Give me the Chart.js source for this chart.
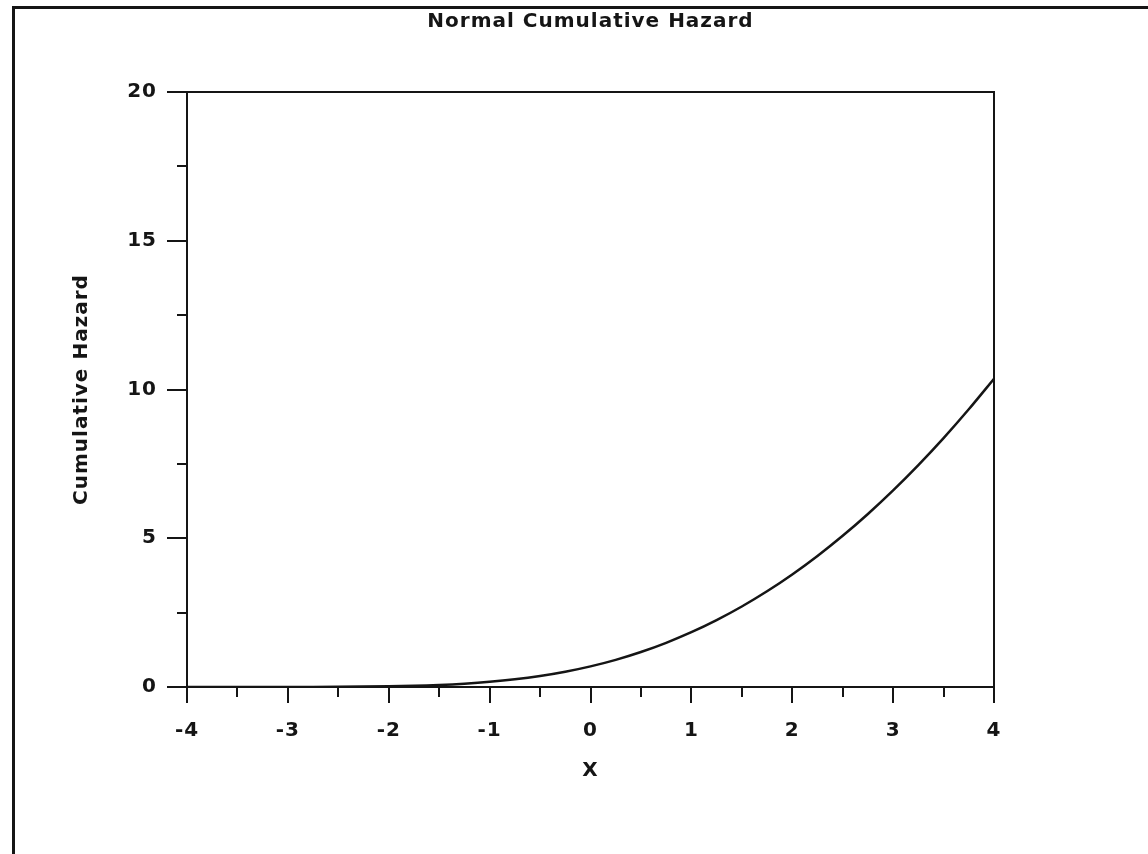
<!DOCTYPE html>
<html>
<head>
<meta charset="utf-8">
<script src="https://cdn.jsdelivr.net/npm/chart.js@4/dist/chart.umd.min.js"></script>
<style>
  body { margin: 0; background: #fff; }
  canvas { display: block; }
</style>
</head>
<body>
<canvas id="hazardChart" width="1148" height="854"></canvas>
<script>
// x values and the cumulative hazard
const xValues = [-4, -3.5, -3, -2.5, -2, -1.75, -1.5, -1.25, -1, -0.75, -0.5, -0.25, 0,
                 0.25, 0.5, 0.75, 1, 1.25, 1.5, 1.75, 2, 2.25, 2.5, 2.75, 3, 3.25, 3.5, 3.75, 4];
const hazardValues = [0.00003, 0.0002, 0.0013, 0.006, 0.023, 0.041, 0.069, 0.112, 0.173, 0.257, 0.369, 0.513, 0.693,
                      0.913, 1.176, 1.485, 1.841, 2.248, 2.706, 3.217, 3.783, 4.405, 5.082, 5.816, 6.608, 7.458, 8.365, 9.334, 10.36];

const ink = '#151515';
const font = 'DejaVu Sans';
const textFont = { family: font, size: 20, weight: 'bold' };

let canvas = document.getElementById('hazardChart');
let ctx = canvas.getContext('2d');
// the old bitmap font is spread out, so widen the text a little
ctx.letterSpacing = '1px';

// outer frame line along the left and top of the page
const pageFrame = {
    id: 'pageFrame',
    beforeDraw(chart) {
        let c = chart.ctx;
        c.letterSpacing = '1px';
        c.save();
        c.strokeStyle = ink;
        c.lineWidth = 3;
        c.beginPath();
        c.moveTo(13.5, chart.height);
        c.lineTo(13.5, 7.5);
        c.lineTo(chart.width, 7.5);
        c.stroke();
        c.restore();
    }
};

let hazardChart = new Chart(ctx, {
    type: 'line',
    data: {
        datasets: [{
            label: 'Cumulative Hazard',
            data: xValues.map((x, i) => ({ x: x, y: hazardValues[i] })),
            borderColor: ink,
            borderWidth: 2.5,
            pointRadius: 0,
            tension: 0.3,
            fill: false
        }]
    },
    options: {
        responsive: false,
        animation: false,
        layout: { padding: { left: 0, top: 0, right: 154, bottom: 0 } },
        plugins: {
            legend: { display: false },
            tooltip: { enabled: false },
            title: {
                display: true,
                text: 'Normal Cumulative Hazard',
                fullSize: false,
                color: ink,
                font: textFont,
                padding: { top: 10, bottom: 0 }
            }
        },
        scales: {
            x: {
                type: 'linear', position: 'bottom', weight: 1,
                min: -4, max: 4,
                afterFit: s => { s.height = 167; },
                ticks: { stepSize: 1, color: ink, padding: 16, font: textFont },
                grid: { drawOnChartArea: false, tickLength: 16, color: ink, lineWidth: 2 },
                border: { color: ink, width: 2 },
                title: { display: true, text: 'X', color: ink, padding: { bottom: 71 }, font: textFont }
            },
            xMinor: {
                type: 'linear', position: 'bottom', weight: 0,
                min: -4, max: 4,
                afterFit: s => { s.height = 0; },
                ticks: { stepSize: 0.5, display: false },
                grid: { drawOnChartArea: false, tickLength: 10, color: ink, lineWidth: 2 },
                border: { display: false }
            },
            xTop: {
                type: 'linear', position: 'top',
                min: -4, max: 4,
                afterFit: s => { s.height = 92 - 34; },
                ticks: { display: false },
                grid: { drawOnChartArea: false, drawTicks: false },
                border: { color: ink, width: 2 }
            },
            y: {
                type: 'linear', position: 'left', weight: 1,
                min: 0, max: 20,
                afterFit: s => { s.width = 187; },
                ticks: { stepSize: 5, color: ink, padding: 10, font: textFont },
                grid: { drawOnChartArea: false, tickLength: 20, color: ink, lineWidth: 2 },
                border: { color: ink, width: 2 },
                title: { display: true, text: 'Cumulative Hazard', color: ink, padding: { top: 70 }, font: textFont }
            },
            yMinor: {
                type: 'linear', position: 'left', weight: 0,
                min: 0, max: 20,
                afterFit: s => { s.width = 0; },
                ticks: { stepSize: 2.5, display: false },
                grid: { drawOnChartArea: false, tickLength: 10, color: ink, lineWidth: 2 },
                border: { display: false }
            },
            yRight: {
                type: 'linear', position: 'right',
                min: 0, max: 20,
                afterFit: s => { s.width = 0; },
                ticks: { display: false },
                grid: { drawOnChartArea: false, drawTicks: false },
                border: { color: ink, width: 2 }
            }
        }
    },
    plugins: [pageFrame]
});
</script>
</body>
</html>
